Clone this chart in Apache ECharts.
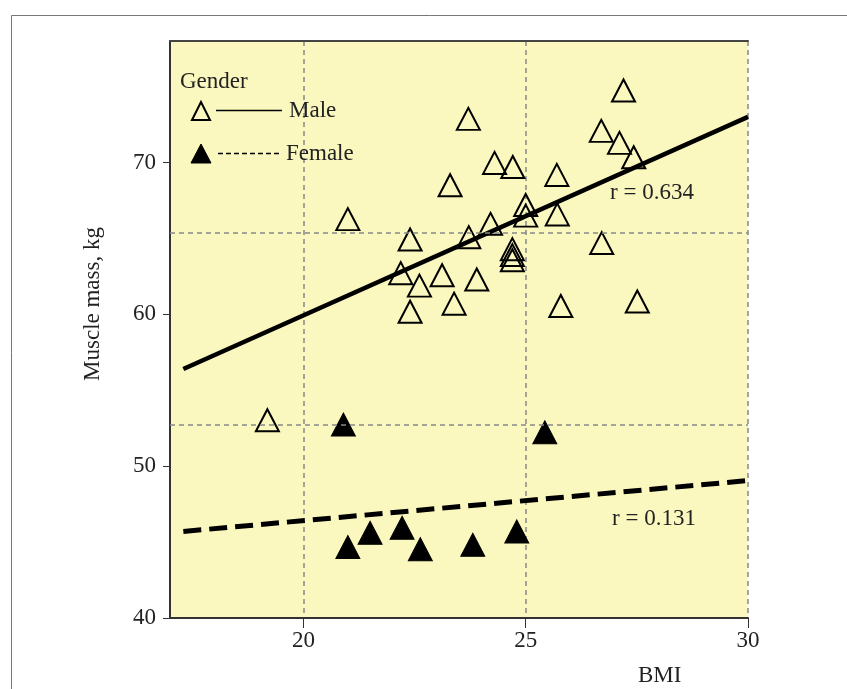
<!DOCTYPE html>
<html>
<head>
<meta charset="utf-8">
<script src="https://cdn.jsdelivr.net/npm/echarts@6/dist/echarts.min.js"></script>
<style>
  html, body { margin: 0; padding: 0; background: #fff; }
  #chart { width: 847px; height: 689px; }
</style>
</head>
<body>
<div id="chart"></div>
<script>
// BMI / muscle mass
const maleBmi = [27.20, 23.71, 26.70, 27.11, 27.43, 24.30, 24.71, 23.30, 25.70, 21.00,
  25.00, 25.00, 25.71, 24.21, 23.72, 22.40, 24.70, 24.70, 24.70, 26.71,
  22.19, 23.12, 22.61, 23.90, 23.39, 22.40, 25.79, 27.51, 19.19];
const maleMass = [74.74, 72.87, 72.08, 71.29, 70.34, 69.97, 69.70, 68.50, 69.18, 66.27,
  67.20, 66.50, 66.58, 65.96, 65.08, 64.93, 64.29, 63.90, 63.56, 64.69,
  62.71, 62.57, 61.89, 62.29, 60.70, 60.17, 60.55, 60.84, 53.02];

const femaleBmi = [20.90, 25.43, 21.00, 21.50, 22.22, 22.63, 23.81, 24.80];
const femaleMass = [52.74, 52.23, 44.67, 45.61, 45.94, 44.53, 44.82, 45.70];

// fitted lines (end points)
const maleFitBmi = [17.3, 30];
const maleFitMass = [56.4, 73.0];
const femaleFitBmi = [17.3, 30];
const femaleFitMass = [45.7, 49.05];

// dashed reference lines
const refMass = [65.4, 52.7];

const xTicks = [20, 25, 30];
const yTicks = [40, 50, 60, 70];

const FONT = 'Liberation Serif';
const FS = 23;
const BG = '#faf8bf';
const TXT = '#222';

const zip = (a, b) => a.map((v, i) => [v, b[i]]);

const label = (x, y, text, extra) => Object.assign({
  type: 'text', x, y, z: 10,
  style: { text, font: FS + 'px "Liberation Serif"', fill: TXT, verticalAlign: 'middle' }
}, extra);

const chart = echarts.init(document.getElementById('chart'));

chart.setOption({
  backgroundColor: '#fff',
  animation: false,
  grid: {
    left: 170, top: 41, right: 99, bottom: 71,
    show: true, backgroundColor: BG, borderWidth: 0
  },
  xAxis: [{
    type: 'value', min: 17, max: 30,
    axisLine: { lineStyle: { color: '#333', width: 2 } },
    axisTick: { customValues: xTicks, length: 10, lineStyle: { color: '#333', width: 1 } },
    axisLabel: { customValues: xTicks, fontFamily: FONT, fontSize: FS, color: TXT, margin: 11 },
    splitLine: { show: true, lineStyle: { color: '#888', type: [5, 4], width: 1.5 } }
  }, {
    type: 'value', min: 17, max: 30, position: 'top',
    axisLine: { onZero: false, lineStyle: { color: '#444', width: 2 } },
    axisTick: { show: false }, axisLabel: { show: false }, splitLine: { show: false }
  }],
  yAxis: {
    type: 'value', min: 40, max: 78,
    axisLine: { onZero: false, lineStyle: { color: '#333', width: 2 } },
    axisTick: { customValues: yTicks, length: 7, lineStyle: { color: '#333', width: 1 } },
    axisLabel: { customValues: yTicks, fontFamily: FONT, fontSize: FS, color: TXT, margin: 14 },
    splitLine: { show: false }
  },
  series: [
    {
      name: 'ref', type: 'line', data: [], silent: true,
      markLine: {
        symbol: 'none', silent: true, label: { show: false },
        lineStyle: { color: '#888', type: [5, 4], width: 1.5 },
        data: refMass.map(v => ({ yAxis: v }))
      }
    },
    {
      name: 'Male fit', type: 'line', data: zip(maleFitBmi, maleFitMass),
      symbol: 'none', lineStyle: { color: '#000', width: 4.5 }, z: 3
    },
    {
      name: 'Female fit', type: 'line', data: zip(femaleFitBmi, femaleFitMass),
      symbol: 'none', lineStyle: { color: '#000', width: 5, type: [18, 8] }, z: 3
    },
    {
      name: 'Male', type: 'scatter', data: zip(maleBmi, maleMass),
      symbol: 'triangle', symbolSize: [23, 22],
      itemStyle: { color: 'rgba(0,0,0,0)', borderColor: '#000', borderWidth: 2, opacity: 1 }, z: 4
    },
    {
      name: 'Female', type: 'scatter', data: zip(femaleBmi, femaleMass),
      symbol: 'triangle', symbolSize: [24, 23],
      itemStyle: { color: '#000', borderColor: '#000', borderWidth: 1, opacity: 1 }, z: 4
    }
  ],
  graphic: [
    { type: 'rect', shape: { x: 11.5, y: 15.5, width: 900, height: 800 }, style: { fill: 'none', stroke: '#777', lineWidth: 1 }, z: 0 },
    // legend
    label(180, 82, 'Gender'),
    { type: 'polygon', shape: { points: [[201, 102], [192, 120], [210, 120]] }, style: { fill: 'none', stroke: '#000', lineWidth: 2 }, z: 10 },
    { type: 'line', shape: { x1: 216, y1: 110.5, x2: 282, y2: 110.5 }, style: { stroke: '#000', lineWidth: 1.5 }, z: 10 },
    label(289, 111, 'Male'),
    { type: 'polygon', shape: { points: [[201, 144], [191, 163], [211, 163]] }, style: { fill: '#000', stroke: '#000', lineWidth: 1 }, z: 10 },
    { type: 'line', shape: { x1: 218, y1: 153.5, x2: 280, y2: 153.5 }, style: { stroke: '#000', lineWidth: 1.5, lineDash: [5, 3] }, z: 10 },
    label(286, 154, 'Female'),
    // axis titles and correlation labels
    label(93, 304, 'Muscle mass, kg', { rotation: Math.PI / 2, style: { text: 'Muscle mass, kg', font: FS + 'px "Liberation Serif"', fill: TXT, align: 'center', verticalAlign: 'middle' } }),
    label(638, 676, 'BMI'),
    label(610, 193, 'r = 0.634'),
    label(612, 519, 'r = 0.131')
  ]
});
</script>
</body>
</html>
